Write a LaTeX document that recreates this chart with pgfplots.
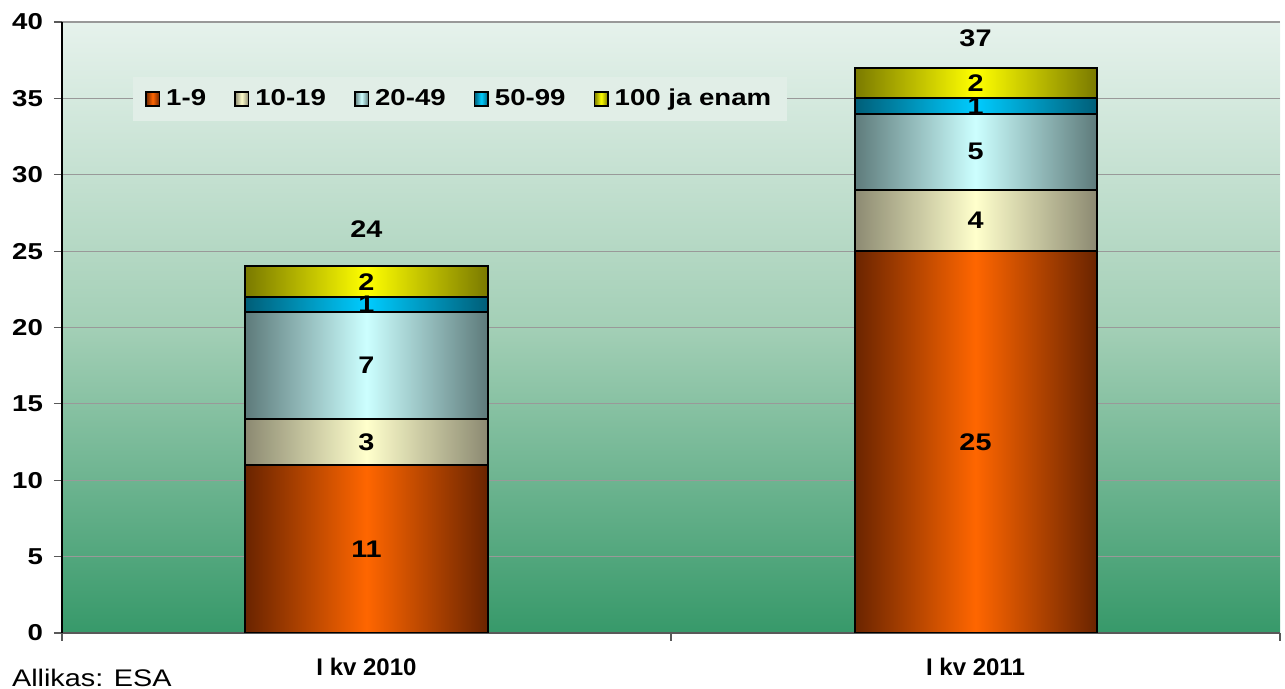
\documentclass[border=0pt]{standalone}
\usepackage{pgfplots}
\usepackage{pgfplotstable}
\pgfplotsset{compat=1.18}
\usepackage{fontspec}
\setmainfont{Liberation Sans}
\newfontfamily\wide[FakeStretch=1.2]{Liberation Sans}

\definecolor{bgtop}{HTML}{E6F2EC}
\definecolor{bgmid}{HTML}{A3CFB6}
\definecolor{bgbot}{HTML}{37996A}
\definecolor{legbg}{HTML}{E1EEE7}
\definecolor{aD}{HTML}{6A2400}\definecolor{aL}{HTML}{FF6600}
\definecolor{bD}{HTML}{8C8A72}\definecolor{bL}{HTML}{FFFFCC}
\definecolor{cD}{HTML}{5E7B7B}\definecolor{cL}{HTML}{CCFFFF}
\definecolor{dD}{HTML}{005E78}\definecolor{dL}{HTML}{00CCFF}
\definecolor{eD}{HTML}{7A7A00}\definecolor{eL}{HTML}{FFFF00}

% top of each size class in the stack (I kv 2010, I kv 2011)
\pgfplotstableread{
x top
0.5 11
1.5 25
}\sizeA
\pgfplotstableread{
x top
0.5 14
1.5 29
}\sizeB
\pgfplotstableread{
x top
0.5 21
1.5 34
}\sizeC
\pgfplotstableread{
x top
0.5 22
1.5 35
}\sizeD
\pgfplotstableread{
x top
0.5 24
1.5 37
}\sizeE
% segment labels at segment middles
\pgfplotstableread{
x mid lab
0.5 5.5 11
0.5 12.5 3
0.5 17.5 7
0.5 21.5 1
0.5 23 2
1.5 12.5 25
1.5 27 4
1.5 31.5 5
1.5 34.5 1
1.5 36 2
}\seglabels
\pgfplotstableread{
x pos lab
0.5 26.45 24
1.5 38.95 37
}\totals

\pgfplotsset{
  seg/.style 2 args={ybar, bar width=121pt, bar shift=0pt, forget plot,
    draw=black, line width=1pt,
    left color=#1, right color=#1, middle color=#2},
  lab/.style={draw=none, mark=none, forget plot, point meta=explicit symbolic,
    nodes near coords,
    nodes near coords style={anchor=center, text=black,
      font=\wide\bfseries\fontsize{12}{14}\selectfont}},
}

\begin{document}
\begin{tikzpicture}
\useasboundingbox (-31pt,-28pt) rectangle (611.5pt,316.5pt);
\begin{axis}[
  at={(0,0)}, anchor=south west,
  scale only axis, width=609pt, height=305.5pt,
  xmin=0, xmax=2, ymin=0, ymax=40,
  ytick distance=5,
  xtick={0,1,2}, x tick label as interval,
  xticklabels={I kv 2010, I kv 2011},
  axis lines*=left,
  y axis line style={black, line width=0.8pt},
  x axis line style={black!65, line width=0.8pt},
  tick align=outside, major tick length=4pt,
  tick style={black!65, line width=0.6pt},
  ymajorgrids, grid style={black!40, line width=0.6pt},
  axis background/.style={top color=bgtop, bottom color=bgbot, middle color=bgmid},
  /pgf/number format/assume math mode=true,
  tick label style={font=\wide\bfseries\fontsize{11.5}{13}\selectfont},
  yticklabel style={xshift=-2pt},
  xticklabel style={yshift=-5pt, font=\bfseries\fontsize{12}{14}\selectfont},
  legend columns=-1,
  legend style={at={(0.058,0.874)}, anchor=west, draw=none, fill=legbg,
    inner xsep=6pt, inner ysep=4pt,
    font=\wide\bfseries\fontsize{11.5}{13}\selectfont,
    /tikz/every odd column/.append style={column sep=1pt},
    /tikz/every even column/.append style={column sep=12pt}},
  legend image code/.code={\draw[#1, draw=black, line width=0.8pt] (0pt,-3.4pt) rectangle (6.8pt,3.4pt);},
]
% bars drawn tallest first, each shorter one on top
\addplot[seg={eD}{eL}] table[x=x, y=top, skip coords between index={1}{2}] {\sizeE};
\addplot[seg={dD}{dL}] table[x=x, y=top, skip coords between index={1}{2}] {\sizeD};
\addplot[seg={cD}{cL}] table[x=x, y=top, skip coords between index={1}{2}] {\sizeC};
\addplot[seg={bD}{bL}] table[x=x, y=top, skip coords between index={1}{2}] {\sizeB};
\addplot[seg={aD}{aL}] table[x=x, y=top, skip coords between index={1}{2}] {\sizeA};
\addplot[seg={eD}{eL}] table[x=x, y=top, skip coords between index={0}{1}] {\sizeE};
\addplot[seg={dD}{dL}] table[x=x, y=top, skip coords between index={0}{1}] {\sizeD};
\addplot[seg={cD}{cL}] table[x=x, y=top, skip coords between index={0}{1}] {\sizeC};
\addplot[seg={bD}{bL}] table[x=x, y=top, skip coords between index={0}{1}] {\sizeB};
\addplot[seg={aD}{aL}] table[x=x, y=top, skip coords between index={0}{1}] {\sizeA};
\addplot[lab] table[x=x, y=mid, meta=lab] {\seglabels};
\addplot[lab] table[x=x, y=pos, meta=lab] {\totals};
\addlegendimage{left color=aD, right color=aD, middle color=aL}
\addlegendentry{1-9}
\addlegendimage{left color=bD, right color=bD, middle color=bL}
\addlegendentry{10-19}
\addlegendimage{left color=cD, right color=cD, middle color=cL}
\addlegendentry{20-49}
\addlegendimage{left color=dD, right color=dD, middle color=dL}
\addlegendentry{50-99}
\addlegendimage{left color=eD, right color=eD, middle color=eL}
\addlegendentry{100 ja enam}
\end{axis}
\node[anchor=base west, font=\wide\fontsize{12}{14}\selectfont] at (-28.5pt,-27pt) {Allikas: ESA};
\end{tikzpicture}
\end{document}
